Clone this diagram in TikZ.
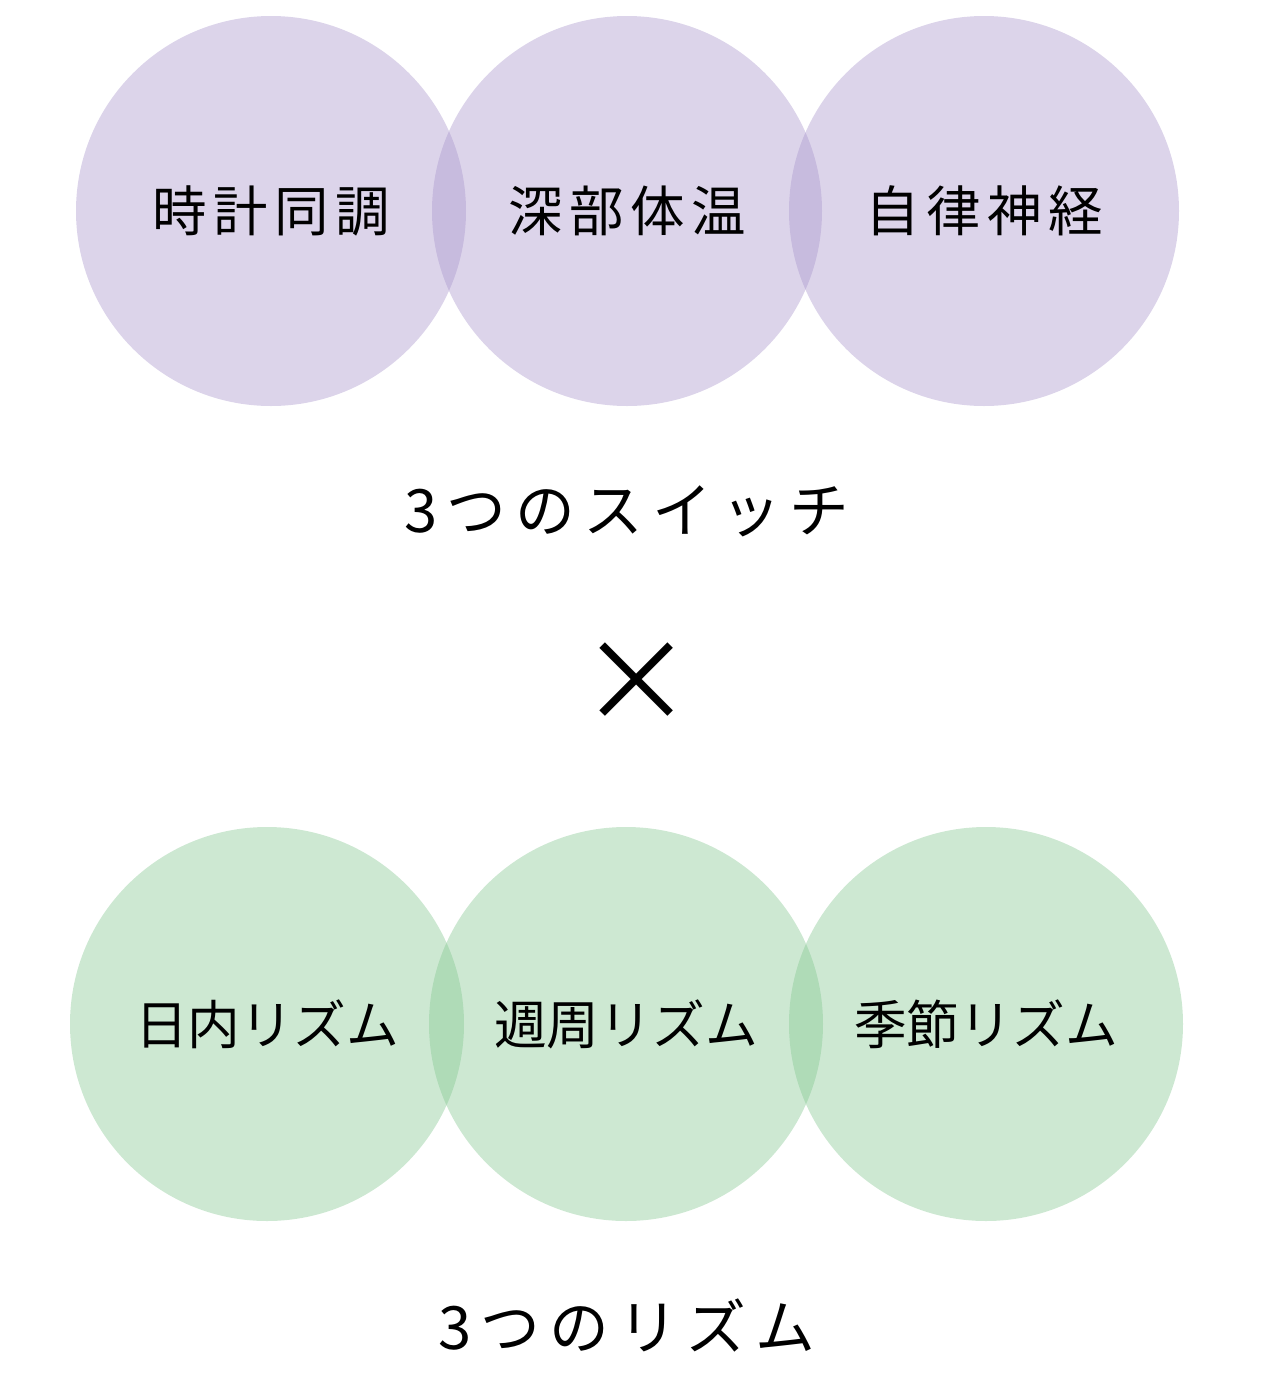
\documentclass[tikz,border=0pt]{standalone}
\usepackage{fontspec}
\setmainfont{Noto Sans CJK JP}
\newfontfamily\wide{Noto Sans CJK JP}[LetterSpace=12]
\newfontfamily\wider{Noto Sans CJK JP}[LetterSpace=15]
\definecolor{lilac}{RGB}{168,148,203}
\definecolor{mint}{RGB}{130,198,143}
\tikzset{
  switchdisc/.style = {circle, fill = lilac, fill opacity = 0.4, text opacity = 1, minimum size = 390*0.02cm, inner sep = 0pt, font = \wide\fontsize{31}{31}\selectfont},
  rhythmdisc/.style = {circle, fill = mint, fill opacity = 0.4, text opacity = 1, minimum size = 394*0.02cm, inner sep = 0pt, font = \fontsize{30}{30}\selectfont},
  caption/.style = {font = \wider\fontsize{34}{34}\selectfont}
}

\begin{document}
\begin{tikzpicture} [x = 0.02cm, y = -0.02cm]
\useasboundingbox (0, 0) rectangle (1280, 1380);
\node[switchdisc] (clock) at (271, 211){時計同調};
\node[switchdisc] (temp) at (627, 211){深部体温};
\node[switchdisc] (nerve) at (984, 211){自律神経};
\node[caption] (switches) at (627, 511){3つのスイッチ};
\node[font = \fontsize{65}{65}\selectfont] (times) at (637, 683){×};
\node[rhythmdisc] (daily) at (267, 1024){日内リズム};
\node[rhythmdisc] (weekly) at (626, 1024){週周リズム};
\node[rhythmdisc] (season) at (986, 1024){季節リズム};
\node[caption] (rhythms) at (627, 1325){3つのリズム};
\end{tikzpicture}
\end{document}
